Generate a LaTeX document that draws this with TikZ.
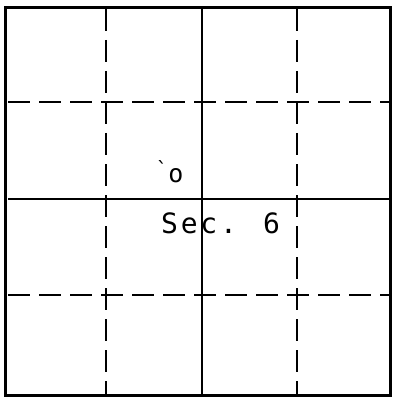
\documentclass[tikz,border=0pt]{standalone}
\usepackage{fontspec}
\newfontfamily\tw[LetterSpace=10]{DejaVu Sans Mono}
\begin{document}
\begin{tikzpicture}[x=1pt,y=-1pt,
  frameline/.style={line width=3pt},
  dashline/.style={line width=1.7pt, dash pattern=on 22pt off 9pt},
  solidline/.style={line width=1.5pt},
  label/.style={font=\tw\fontsize{28}{28}\selectfont, inner sep=0pt}]
\useasboundingbox (0,0) rectangle (393,398);
\draw[frameline] (5,8) rectangle (390,395);
% vertical lines
\draw[dashline] (106,9) -- (106,394);
\draw[dashline] (297,9) -- (297,394);
\draw[solidline] (202,9) -- (202,394);
% horizontal lines
\draw[dashline] (8,102) -- (389,102);
\draw[dashline] (8,295) -- (389,295);
\draw[solidline] (8,199) -- (389,199);
% labels
\node[label, anchor=base west] (sec) at (161,233) {Sec. 6};
\node[label, anchor=base, font=\tw\fontsize{25}{25}\selectfont] (o) at (176,182) {o};
\node[label, anchor=base, font=\tw\fontsize{20}{20}\selectfont] (tick) at (162,176) {`};
\end{tikzpicture}
\end{document}
